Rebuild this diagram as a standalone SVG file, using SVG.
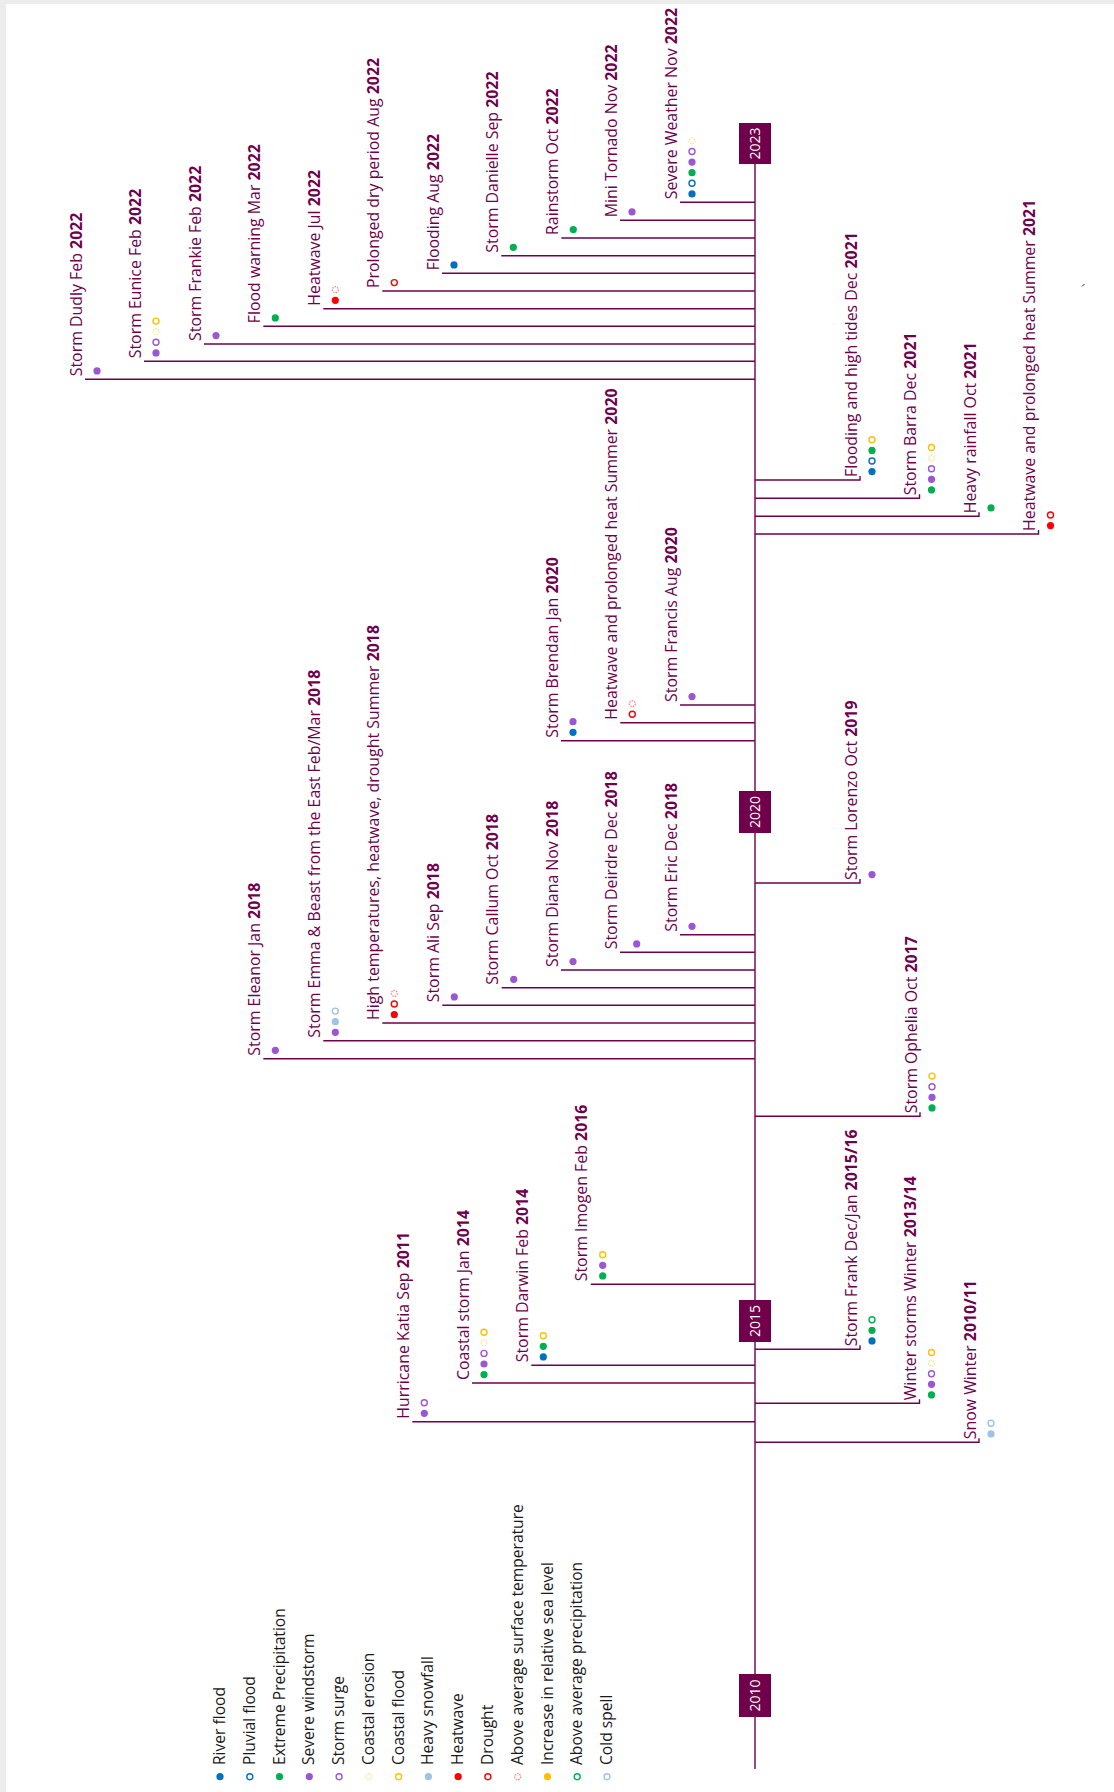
<svg xmlns="http://www.w3.org/2000/svg" width="1114" height="1792" viewBox="0 0 1114 1792">
<style>
.ln{stroke:#70004b;stroke-width:1.4;fill:none}
.t{font-family:'Open Sans','Liberation Sans',sans-serif;font-size:15.9px;fill:#70004b}
.b{font-weight:bold}
.yb{fill:#70004b}
.yt{font-family:'Open Sans','Liberation Sans',sans-serif;font-size:14px;fill:#ffffff;text-anchor:middle}
.lg{font-family:'Open Sans','Liberation Sans',sans-serif;font-size:15.6px;fill:#1a1a1a}
.rf{fill:#0070c0}
.pf{fill:none;stroke:#0070c0;stroke-width:1.4}
.ep{fill:#00b050}
.sw{fill:#9b57d3}
.ss{fill:none;stroke:#9b57d3;stroke-width:1.4}
.ce{fill:none;stroke:#ffe08a;stroke-width:1.2;stroke-dasharray:1.6 1}
.cf{fill:none;stroke:#ffc000;stroke-width:1.4}
.hs{fill:#9dc3e6}
.hw{fill:#ff0000}
.dr{fill:none;stroke:#ff0000;stroke-width:1.4}
.at{fill:none;stroke:#ff8080;stroke-width:1.2;stroke-dasharray:1.6 1}
.sl{fill:#ffc000}
.ap{fill:none;stroke:#00b050;stroke-width:1.4}
.cs{fill:none;stroke:#9dc3e6;stroke-width:1.4}
</style>
<rect x="0" y="0" width="1114" height="1792" fill="#ececec"/>
<rect x="6" y="4" width="1108" height="1788" fill="#ffffff"/>
<path d="M1082 286.5 L1084.5 284" stroke="#333" stroke-width="1"/>

<g id="connectors">
<path class="ln" d="M755 143 V1769"/>
<path class="ln" d="M85 379.3H755 M144 361.3H755 M204 344H755 M263.3 326.3H755 M323.3 308.7H755 M382.3 291H755 M442 273.3H755 M501.3 255.7H755 M561.3 238H755 M620 220.3H755 M680 202.3H755"/>
<path class="ln" d="M755 480H860v-4 M755 498.3H919.5v-4 M755 516.3H979v-4 M755 534H1038.5v-4"/>
<path class="ln" d="M561 740.7H755 M620.3 722.7H755 M680 705H755"/>
<path class="ln" d="M755 883H860v-4"/>
<path class="ln" d="M263.3 1058.7H755 M323.3 1040.7H755 M382.3 1023H755 M442.3 1005.3H755 M501.7 987.7H755 M561 970H755 M620 952.3H755 M680 934.7H755"/>
<path class="ln" d="M755 1116.3H920v-4"/>
<path class="ln" d="M590.7 1284.3H755 M531.3 1365.3H755 M472 1383H755 M412.3 1421.7H755"/>
<path class="ln" d="M755 1349.3H860v-4 M755 1403.3H919.5v-4 M755 1442.3H979v-4"/>
</g>

<g id="year-2023"><rect class="yb" x="739" y="123" width="32" height="41"/><text class="yt" transform="translate(760,143.5) rotate(-90)">2023</text></g>
<g id="year-2020"><rect class="yb" x="739" y="791" width="32" height="42"/><text class="yt" transform="translate(760,812) rotate(-90)">2020</text></g>
<g id="year-2015"><rect class="yb" x="739" y="1300" width="32" height="42"/><text class="yt" transform="translate(760,1321) rotate(-90)">2015</text></g>
<g id="year-2010"><rect class="yb" x="739" y="1674" width="32" height="43"/><text class="yt" transform="translate(760,1695.5) rotate(-90)">2010</text></g>

<g id="ev-dudly"><text class="t" transform="translate(81.5,376.3) rotate(-90)">Storm Dudly Feb <tspan class="b">2022</tspan></text><circle class="sw" cx="97" cy="370.9" r="3.6"/></g>
<g id="ev-eunice"><text class="t" transform="translate(140.5,358.3) rotate(-90)">Storm Eunice Feb <tspan class="b">2022</tspan></text><circle class="sw" cx="156" cy="352.9" r="3.6"/><circle class="ss" cx="156" cy="342.3" r="3"/><circle class="ce" cx="156" cy="331.7" r="3"/><circle class="cf" cx="156" cy="321.1" r="3"/></g>
<g id="ev-frankie"><text class="t" transform="translate(200.5,341) rotate(-90)">Storm Frankie Feb <tspan class="b">2022</tspan></text><circle class="sw" cx="216" cy="335.6" r="3.6"/></g>
<g id="ev-floodwarning"><text class="t" transform="translate(259.8,323.3) rotate(-90)">Flood warning Mar <tspan class="b">2022</tspan></text><circle class="ep" cx="275.3" cy="317.9" r="3.6"/></g>
<g id="ev-heatwave-jul"><text class="t" transform="translate(319.8,305.7) rotate(-90)">Heatwave Jul <tspan class="b">2022</tspan></text><circle class="hw" cx="335.3" cy="300.3" r="3.6"/><circle class="at" cx="335.3" cy="289.7" r="3"/></g>
<g id="ev-prolonged"><text class="t" transform="translate(378.8,288) rotate(-90)">Prolonged dry period Aug <tspan class="b">2022</tspan></text><circle class="dr" cx="394.3" cy="282.6" r="3"/></g>
<g id="ev-flooding-aug"><text class="t" transform="translate(438.5,270.3) rotate(-90)">Flooding Aug <tspan class="b">2022</tspan></text><circle class="rf" cx="454" cy="264.9" r="3.6"/></g>
<g id="ev-danielle"><text class="t" transform="translate(497.8,252.7) rotate(-90)">Storm Danielle Sep <tspan class="b">2022</tspan></text><circle class="ep" cx="513.3" cy="247.3" r="3.6"/></g>
<g id="ev-rainstorm"><text class="t" transform="translate(557.8,235) rotate(-90)">Rainstorm Oct <tspan class="b">2022</tspan></text><circle class="ep" cx="573.3" cy="229.6" r="3.6"/></g>
<g id="ev-minitornado"><text class="t" transform="translate(616.5,217.3) rotate(-90)">Mini Tornado Nov <tspan class="b">2022</tspan></text><circle class="sw" cx="632" cy="211.9" r="3.6"/></g>
<g id="ev-severe"><text class="t" transform="translate(676.5,199.3) rotate(-90)">Severe Weather Nov <tspan class="b">2022</tspan></text><circle class="rf" cx="692" cy="193.9" r="3.6"/><circle class="pf" cx="692" cy="183.3" r="3"/><circle class="ep" cx="692" cy="172.7" r="3.6"/><circle class="sw" cx="692" cy="162.1" r="3.6"/><circle class="ss" cx="692" cy="151.5" r="3"/><circle class="ce" cx="692" cy="140.9" r="3"/></g>

<g id="ev-flooding-tides"><text class="t" transform="translate(856.5,477) rotate(-90)">Flooding and high tides Dec <tspan class="b">2021</tspan></text><circle class="rf" cx="872" cy="471.6" r="3.6"/><circle class="pf" cx="872" cy="461" r="3"/><circle class="ep" cx="872" cy="450.4" r="3.6"/><circle class="cf" cx="872" cy="439.8" r="3"/></g>
<g id="ev-barra"><text class="t" transform="translate(916,495.3) rotate(-90)">Storm Barra Dec <tspan class="b">2021</tspan></text><circle class="ep" cx="931.5" cy="489.9" r="3.6"/><circle class="sw" cx="931.5" cy="479.3" r="3.6"/><circle class="ss" cx="931.5" cy="468.7" r="3"/><circle class="ce" cx="931.5" cy="458.1" r="3"/><circle class="cf" cx="931.5" cy="447.5" r="3"/></g>
<g id="ev-heavyrain"><text class="t" transform="translate(975.5,513.3) rotate(-90)">Heavy rainfall Oct <tspan class="b">2021</tspan></text><circle class="ep" cx="991" cy="507.9" r="3.6"/></g>
<g id="ev-heat-2021"><text class="t" transform="translate(1035,531) rotate(-90)">Heatwave and prolonged heat Summer <tspan class="b">2021</tspan></text><circle class="hw" cx="1050.5" cy="525.6" r="3.6"/><circle class="dr" cx="1050.5" cy="515" r="3"/></g>

<g id="ev-brendan"><text class="t" transform="translate(557.5,737.7) rotate(-90)">Storm Brendan Jan <tspan class="b">2020</tspan></text><circle class="rf" cx="573" cy="732.3" r="3.6"/><circle class="sw" cx="573" cy="721.7" r="3.6"/></g>
<g id="ev-heat-2020"><text class="t" transform="translate(616.8,719.7) rotate(-90)">Heatwave and prolonged heat Summer <tspan class="b">2020</tspan></text><circle class="dr" cx="632.3" cy="714.3" r="3"/><circle class="at" cx="632.3" cy="703.7" r="3"/></g>
<g id="ev-francis"><text class="t" transform="translate(676.5,702) rotate(-90)">Storm Francis Aug <tspan class="b">2020</tspan></text><circle class="sw" cx="692" cy="696.6" r="3.6"/></g>
<g id="ev-lorenzo"><text class="t" transform="translate(856.5,880) rotate(-90)">Storm Lorenzo Oct <tspan class="b">2019</tspan></text><circle class="sw" cx="872" cy="874.6" r="3.6"/></g>

<g id="ev-eleanor"><text class="t" transform="translate(259.8,1055.7) rotate(-90)">Storm Eleanor Jan <tspan class="b">2018</tspan></text><circle class="sw" cx="275.3" cy="1050.3" r="3.6"/></g>
<g id="ev-emma"><text class="t" transform="translate(319.8,1037.7) rotate(-90)">Storm Emma &amp; Beast from the East Feb/Mar <tspan class="b">2018</tspan></text><circle class="sw" cx="335.3" cy="1032.3" r="3.6"/><circle class="hs" cx="335.3" cy="1021.7" r="3.6"/><circle class="cs" cx="335.3" cy="1011.1" r="3"/></g>
<g id="ev-hightemp"><text class="t" transform="translate(378.8,1020) rotate(-90)">High temperatures, heatwave, drought Summer <tspan class="b">2018</tspan></text><circle class="hw" cx="394.3" cy="1014.6" r="3.6"/><circle class="dr" cx="394.3" cy="1004" r="3"/><circle class="at" cx="394.3" cy="993.4" r="3"/></g>
<g id="ev-ali"><text class="t" transform="translate(438.8,1002.3) rotate(-90)">Storm Ali Sep <tspan class="b">2018</tspan></text><circle class="sw" cx="454.3" cy="996.9" r="3.6"/></g>
<g id="ev-callum"><text class="t" transform="translate(498.2,984.7) rotate(-90)">Storm Callum Oct <tspan class="b">2018</tspan></text><circle class="sw" cx="513.7" cy="979.3" r="3.6"/></g>
<g id="ev-diana"><text class="t" transform="translate(557.5,967) rotate(-90)">Storm Diana Nov <tspan class="b">2018</tspan></text><circle class="sw" cx="573" cy="961.6" r="3.6"/></g>
<g id="ev-deirdre"><text class="t" transform="translate(616.5,949.3) rotate(-90)">Storm Deirdre Dec <tspan class="b">2018</tspan></text><circle class="sw" cx="636.7" cy="943.9" r="3.6"/></g>
<g id="ev-eric"><text class="t" transform="translate(676.5,931.7) rotate(-90)">Storm Eric Dec <tspan class="b">2018</tspan></text><circle class="sw" cx="692" cy="926.3" r="3.6"/></g>
<g id="ev-ophelia"><text class="t" transform="translate(916.5,1113.3) rotate(-90)">Storm Ophelia Oct <tspan class="b">2017</tspan></text><circle class="ep" cx="932" cy="1107.9" r="3.6"/><circle class="sw" cx="932" cy="1097.3" r="3.6"/><circle class="ss" cx="932" cy="1086.7" r="3"/><circle class="cf" cx="932" cy="1076.1" r="3"/></g>

<g id="ev-imogen"><text class="t" transform="translate(587.2,1281.3) rotate(-90)">Storm Imogen Feb <tspan class="b">2016</tspan></text><circle class="ep" cx="602.7" cy="1275.9" r="3.6"/><circle class="sw" cx="602.7" cy="1265.3" r="3.6"/><circle class="cf" cx="602.7" cy="1254.7" r="3"/></g>
<g id="ev-darwin"><text class="t" transform="translate(527.8,1362.3) rotate(-90)">Storm Darwin Feb <tspan class="b">2014</tspan></text><circle class="rf" cx="543.3" cy="1356.9" r="3.6"/><circle class="ep" cx="543.3" cy="1346.3" r="3.6"/><circle class="cf" cx="543.3" cy="1335.7" r="3"/></g>
<g id="ev-coastal"><text class="t" transform="translate(468.5,1380) rotate(-90)">Coastal storm Jan <tspan class="b">2014</tspan></text><circle class="ep" cx="484" cy="1374.6" r="3.6"/><circle class="sw" cx="484" cy="1364" r="3.6"/><circle class="ss" cx="484" cy="1353.4" r="3"/><circle class="ce" cx="484" cy="1342.8" r="3"/><circle class="cf" cx="484" cy="1332.2" r="3"/></g>
<g id="ev-katia"><text class="t" transform="translate(408.8,1418.7) rotate(-90)">Hurricane Katia Sep <tspan class="b">2011</tspan></text><circle class="sw" cx="424.3" cy="1413.3" r="3.6"/><circle class="ss" cx="424.3" cy="1402.7" r="3"/></g>
<g id="ev-frank"><text class="t" transform="translate(856.5,1346.3) rotate(-90)">Storm Frank Dec/Jan <tspan class="b">2015/16</tspan></text><circle class="rf" cx="872" cy="1340.9" r="3.6"/><circle class="ep" cx="872" cy="1330.3" r="3.6"/><circle class="ap" cx="872" cy="1319.7" r="3"/></g>
<g id="ev-winter"><text class="t" transform="translate(916,1400.3) rotate(-90)">Winter storms Winter <tspan class="b">2013/14</tspan></text><circle class="ep" cx="931.5" cy="1394.9" r="3.6"/><circle class="sw" cx="931.5" cy="1384.3" r="3.6"/><circle class="ss" cx="931.5" cy="1373.7" r="3"/><circle class="ce" cx="931.5" cy="1363.1" r="3"/><circle class="cf" cx="931.5" cy="1352.5" r="3"/></g>
<g id="ev-snow"><text class="t" transform="translate(975.5,1439.3) rotate(-90)">Snow Winter <tspan class="b">2010/11</tspan></text><circle class="hs" cx="991" cy="1433.9" r="3.6"/><circle class="cs" cx="991" cy="1423.3" r="3"/></g>

<g id="legend">
<circle class="rf" cx="220" cy="1776.7" r="3.6"/><text class="lg" transform="translate(225,1765) rotate(-90)">River flood</text>
<circle class="pf" cx="249.8" cy="1776.7" r="3"/><text class="lg" transform="translate(254.8,1765) rotate(-90)">Pluvial flood</text>
<circle class="ep" cx="279.5" cy="1776.7" r="3.6"/><text class="lg" transform="translate(284.5,1765) rotate(-90)">Extreme Precipitation</text>
<circle class="sw" cx="309.3" cy="1776.7" r="3.6"/><text class="lg" transform="translate(314.3,1765) rotate(-90)">Severe windstorm</text>
<circle class="ss" cx="339.1" cy="1776.7" r="3"/><text class="lg" transform="translate(344.1,1765) rotate(-90)">Storm surge</text>
<circle class="ce" cx="368.9" cy="1776.7" r="3"/><text class="lg" transform="translate(373.9,1765) rotate(-90)">Coastal erosion</text>
<circle class="cf" cx="398.6" cy="1776.7" r="3"/><text class="lg" transform="translate(403.6,1765) rotate(-90)">Coastal flood</text>
<circle class="hs" cx="428.4" cy="1776.7" r="3.6"/><text class="lg" transform="translate(433.4,1765) rotate(-90)">Heavy snowfall</text>
<circle class="hw" cx="458.2" cy="1776.7" r="3.6"/><text class="lg" transform="translate(463.2,1765) rotate(-90)">Heatwave</text>
<circle class="dr" cx="487.9" cy="1776.7" r="3"/><text class="lg" transform="translate(492.9,1765) rotate(-90)">Drought</text>
<circle class="at" cx="517.7" cy="1776.7" r="3"/><text class="lg" transform="translate(522.7,1765) rotate(-90)">Above average surface temperature</text>
<circle class="sl" cx="547.5" cy="1776.7" r="3.6"/><text class="lg" transform="translate(552.5,1765) rotate(-90)">Increase in relative sea level</text>
<circle class="ap" cx="577.2" cy="1776.7" r="3"/><text class="lg" transform="translate(582.2,1765) rotate(-90)">Above average precipitation</text>
<circle class="cs" cx="607" cy="1776.7" r="3"/><text class="lg" transform="translate(612,1765) rotate(-90)">Cold spell</text>
</g>
</svg>
